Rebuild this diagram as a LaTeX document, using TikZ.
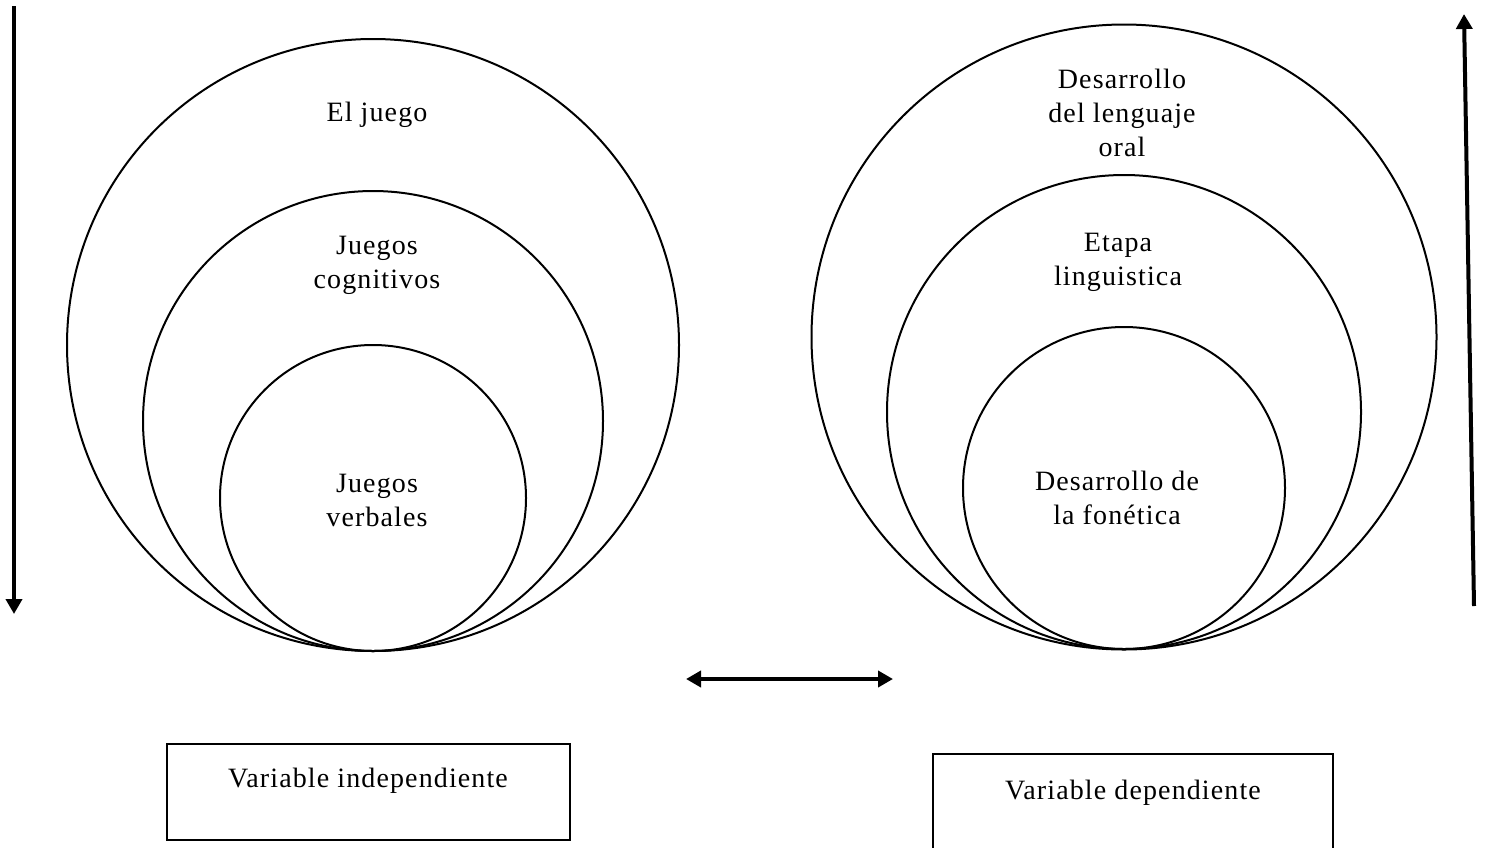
\documentclass[tikz,border=0pt]{standalone}
\usepackage{fontspec}
\setmainfont{Liberation Serif}[LetterSpace=4]
\usetikzlibrary{positioning,arrows.meta}

\tikzset{
    ring/.style={circle, draw, line width=2pt, inner sep=0pt},
    label text/.style={align=center, font=\fontsize{28}{34}\selectfont, inner sep=0pt},
    varbox/.style={rectangle, draw, line width=2.2pt, inner sep=0pt},
    flow/.style={line width=4pt, -{Triangle[length=15pt,width=16pt]}},
}

\begin{document}
\begin{tikzpicture}[x=1pt, y=-1pt]
    \useasboundingbox (0,0) rectangle (1488,847);

    % variable independiente
    \node [ring, minimum size=612pt] (juego) at (373,345) {};
    \node [ring, minimum size=460pt] (cogn) at (373,421) {};
    \node [ring, minimum size=306pt] (verb) at (373,498) {};
    \node [label text] (t-juego) at (377,115) {El juego};
    \node [label text] (t-cogn) at (377,265) {Juegos\\cognitivos};
    \node [label text] (t-verb) at (377,500) {Juegos\\verbales};

    % variable dependiente
    \node [ring, minimum size=625pt] (leng) at (1124,337) {};
    \node [ring, minimum size=474pt] (etapa) at (1124,412) {};
    \node [ring, minimum size=322pt] (fon) at (1124,488) {};
    \node [label text] (t-leng) at (1122,113) {Desarrollo\\del lenguaje\\oral};
    \node [label text] (t-etapa) at (1118,262) {Etapa\\linguistica};
    \node [label text] (t-fon) at (1117,498) {Desarrollo de\\la fonética};

    % recuadros
    \node [varbox, minimum width=403pt, minimum height=96pt] (vi) at (368.5,792) {};
    \node [label text] (t-vi) at (368,781) {Variable independiente};
    \node [varbox, minimum width=400pt, minimum height=110pt] (vd) at (1133,809) {};
    \node [label text] (t-vd) at (1133,793) {Variable dependiente};

    % flechas
    \coordinate (a1) at (14,6);
    \coordinate (a2) at (14,614);
    \coordinate (b1) at (1474,606);
    \coordinate (b2) at (1464,14);
    \coordinate (c1) at (686,679);
    \coordinate (c2) at (893,679);
    \draw [flow] (a1) -- (a2);
    \draw [flow] (b1) -- (b2);
    \draw [flow, {Triangle[length=15pt,width=16pt]}-{Triangle[length=15pt,width=16pt]}] (c1) -- (c2);
\end{tikzpicture}
\end{document}
